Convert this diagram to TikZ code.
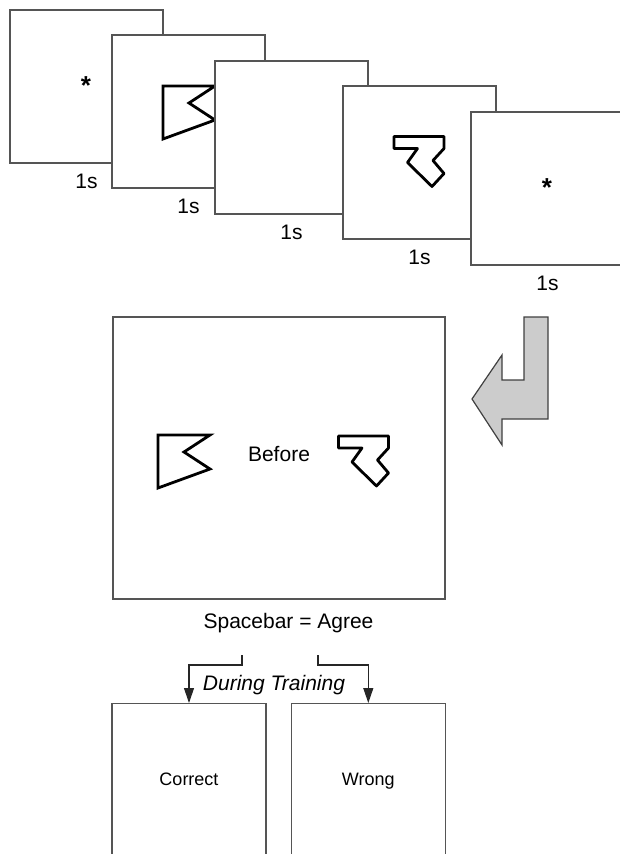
\documentclass[tikz,border=0pt]{standalone}
\usepackage{fontspec}
\setmainfont{Liberation Sans}
\usetikzlibrary{positioning, arrows.meta}

\definecolor{framegray}{HTML}{555555}
\definecolor{arrowgray}{HTML}{CCCCCC}

\newcommand{\flagshape}[1]{\draw[shapeline,shift={#1}] (0,0) -- (52,0) -- (26,17) -- (52,34) -- (0,53) -- cycle;}
\newcommand{\zigshape}[1]{\draw[shapeline,line join=round,shift={#1}] (0,0) -- (50,0) -- (50,12) -- (39,24) -- (50,37) -- (38,50) -- (13.5,26) -- (23.5,12) -- (0,12) -- cycle;}

\begin{document}
\begin{tikzpicture}[x=1pt,y=-1pt,>={Triangle[length=15pt,width=10pt]},node distance=10pt]
        \tikzstyle{screen}=[draw=framegray,fill=white,line width=1.3pt,minimum width=153pt,minimum height=153pt,inner sep=0]
        \tikzstyle{shapeline}=[draw=black,line width=2.8pt]
        \tikzstyle{lbl}=[inner sep=0,font=\fontsize{21}{25}\selectfont]
        \tikzstyle{small}=[inner sep=0,anchor=base,font=\fontsize{18}{22}\selectfont]
        \tikzstyle{fixmark}=[inner sep=0,anchor=base,font=\fontsize{26}{30}\selectfont\bfseries]
        \tikzstyle{conn}=[->,draw=black!85,line width=1.1pt]

        \useasboundingbox (0,0) rectangle (619,854);

        \node[screen] (f1) at (86.5,86.5)  {};
        \node[lbl]    (t1) [below=of f1]   {1s};
        \node[fixmark] (x1) at (86,94)     {*};
        \node[screen] (f2) at (188.5,111.5) {};
        \node[lbl]    (t2) [below=of f2]   {1s};
        \flagshape{(163,86)}
        \node[screen] (f3) at (291.5,137.5) {};
        \node[lbl]    (t3) [below=of f3]   {1s};
        \node[screen] (f4) at (419.5,162.5) {};
        \node[lbl]    (t4) [below=of f4]   {1s};
        \zigshape{(394,136.5)}
        \node[screen] (f5) at (547.5,188.5) {};
        \node[lbl]    (t5) [below=of f5]   {1s};
        \node[fixmark] (x5) at (547,196)   {*};

        \draw[draw=black!75,fill=arrowgray,line width=1.2pt] (524,317) -- (548,317) -- (548,419) -- (502,419) -- (502,445) -- (472,399) -- (502,355) -- (502,380) -- (524,380) -- cycle;

        \node[screen,minimum width=332pt,minimum height=282pt] (main) at (279,458) {};
        \flagshape{(158,435)}
        \zigshape{(338.5,436)}
        \node[lbl,anchor=base] (before) at (279,461.7) {Before};
        \node[lbl,anchor=base] (space) at (288.5,628) {Spacebar = Agree};

        \node[screen,minimum width=154pt,minimum height=160pt,anchor=north] (correct) at (189,703) {};
        \node[screen,minimum width=154pt,minimum height=160pt,anchor=north] (wrong) at (368.3,703) {};
        \node[small] (ctext) at (189,785.7) {Correct};
        \node[small] (wtext) at (368.3,785.7) {Wrong};

        \coordinate (cl) at (242,655);
        \coordinate (cr) at (318,655);
        \draw[conn] (cl) -- ++(0,10) -| (correct.north);
        \draw[conn] (cr) -- ++(0,10) -| (wrong.north);
        \node[lbl,anchor=base,font=\fontsize{21}{25}\selectfont\itshape] (train) at (274,690) {During Training};
\end{tikzpicture}
\end{document}
